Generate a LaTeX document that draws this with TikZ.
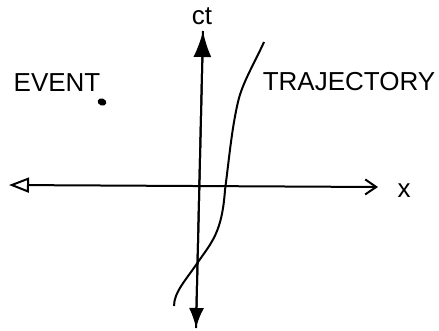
\documentclass[tikz,border=0pt]{standalone}
\usepackage{fontspec}
\setmainfont{Liberation Sans}
\usetikzlibrary{arrows.meta,shapes.geometric}
\begin{document}
\begin{tikzpicture}[x=1pt,y=-1pt,
  axis/.style={line width=2pt,black},
  lbl/.style={font=\fontsize{26}{28}\selectfont,inner sep=0pt},
  traj/.style={line width=2pt,black}]
\useasboundingbox (0,0) rectangle (439,330);
% axes endpoints
\coordinate (top) at (203,31);
\coordinate (bot) at (196,328);
\coordinate (left) at (9,185);
\coordinate (right) at (378,187);
\draw[axis,-{Latex[length=26pt,width=18pt]}] (bot) -- (top);
\draw[axis,-{Latex[length=20pt,width=15pt]}] (top) -- (bot);
\draw[axis,{Triangle[open,length=20pt,width=15pt,line width=2pt]}-{Straight Barb[length=11pt,width=15pt,line width=2pt]}] (left) -- (right);
% labels
\node[lbl] (ct) at (202,16) {ct};
\node[lbl] (x) at (404,191) {x};
\node[lbl] (event) at (57,83) {EVENT};
\node[lbl] (trajlbl) at (349,82) {TRAJECTORY};
\node[ellipse,fill=black,minimum width=9pt,minimum height=7pt,inner sep=0pt,rotate=-20] (ev) at (102,102) {};
% trajectory
\coordinate (t0) at (264,42);
\coordinate (t1) at (239,98);
\coordinate (t2) at (225,190);
\coordinate (t3) at (198,262);
\coordinate (t4) at (174,306);
\draw[traj] (t0) .. controls (255,62) and (244,80) .. (t1)
  .. controls (232,125) and (229,160) .. (t2)
  .. controls (222,232) and (212,242) .. (t3)
  .. controls (186,280) and (174,292) .. (t4);
\end{tikzpicture}
\end{document}
